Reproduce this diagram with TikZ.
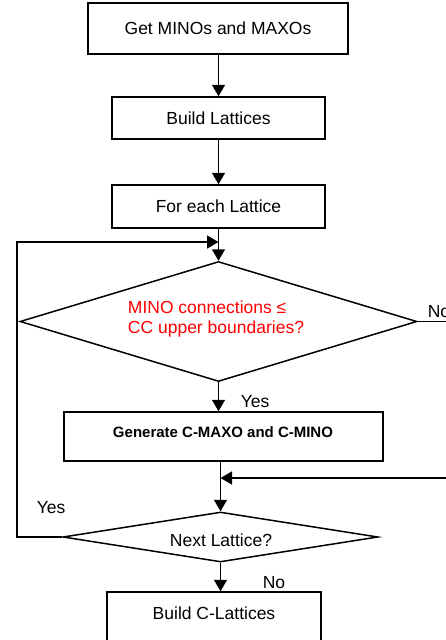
\documentclass[tikz,border=0pt]{standalone}
\usepackage{fontspec}
\setmainfont{Liberation Sans}
\usetikzlibrary{arrows.meta,shapes.geometric}
\begin{document}
\begin{tikzpicture}[x=1pt,y=-1pt,
  line width=1.5pt,
  box/.style={draw,rectangle,inner sep=0pt,font=\fontsize{17.5}{20}\selectfont},
  dia/.style={draw,diamond,inner sep=0pt,aspect=3},
  txt/.style={inner sep=0pt,font=\fontsize{17.5}{20}\selectfont},
  arr/.style={-{Triangle[width=13pt,length=11.5pt]}}]
\useasboundingbox (0,0) rectangle (445,640);
% nodes
\node[box,minimum width=260pt,minimum height=51pt] (b1) at (218,28.5) {Get MINOs and MAXOs};
\node[box,minimum width=213pt,minimum height=42pt] (b2) at (218.5,118) {Build Lattices};
\node[box,minimum width=213pt,minimum height=43pt] (b3) at (218.5,206.5) {For each Lattice};
\node[dia,minimum width=397pt,minimum height=120pt] (d1) at (218.5,321.5) {};
\node[txt,text=red,align=left] (t1) at (216,318.5) {MINO connections ≤\\CC upper boundaries?};
\node[box,minimum width=319pt,minimum height=49pt] (b4) at (223.5,436.5) {};
\node[txt,font=\fontsize{15}{18}\bfseries] (t4) at (223,432) {Generate C-MAXO and C-MINO};
\node[dia,minimum width=315pt,minimum height=50pt] (d2) at (220.5,537) {};
\node[txt] (t2) at (221,540) {Next Lattice?};
\node[box,minimum width=214pt,minimum height=60pt] (b5) at (214,622) {};
\node[txt] (t5) at (214,613) {Build C-Lattices};
% labels
\node[txt,anchor=west] (yes1) at (240,402) {Yes};
\node[txt,anchor=west] (yes2) at (36,508) {Yes};
\node[txt,anchor=west] (no1) at (262,583) {No};
\node[txt,anchor=west] (no2) at (427,312) {No};
% coordinates
\coordinate (j1) at (218.5,242);
\coordinate (j2) at (218.5,478);
\coordinate (L) at (17,537);
\coordinate (rEnd) at (450,321.5);
\coordinate (rIn) at (450,478);
% connectors
\draw[arr] (b1.south -| 218.5,0) -- (b2.north);
\draw[arr] (b2.south) -- (b3.north);
\draw[arr] (b3.south) -- (d1.north);
\draw[arr] (d2.west) -- (L) |- (j1);
\draw (d1.east) -- (rEnd);
\draw[arr] (d1.south) -- (d1.south |- b4.north);
\draw[arr] (b4.south -| d2.north) -- (d2.north);
\draw[arr] (rIn) -- (j2 -| d2.north);
\draw[arr] (d2.south) -- (d2.south |- b5.north);
\end{tikzpicture}
\end{document}
